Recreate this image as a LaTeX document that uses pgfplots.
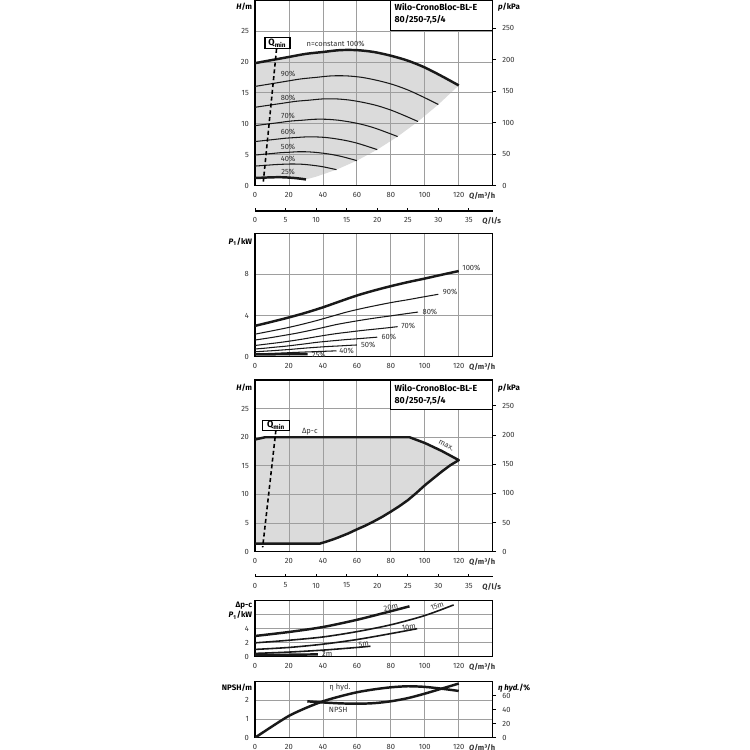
\documentclass[border=0pt]{standalone}
\usepackage{fontspec}
\setmainfont{Fira Sans}
\usepackage{pgfplots}
\pgfplotsset{compat=1.18}

\newcommand\tf{\fontsize{4.3}{5}\selectfont}
\newcommand\lf{\bfseries\fontsize{4.5}{5.4}\selectfont}
\newcommand\qf{\bfseries\fontsize{5.2}{6}\selectfont}
\definecolor{area}{gray}{0.86}
\definecolor{gridc}{gray}{0.62}

\pgfplotsset{
  wilo/.style={
    set layers, scale only axis, width=4.754cm, xmin=0, xmax=140,
    clip=false,
    axis line style={line width=0.7pt},
    grid=major, grid style={gridc, line width=0.45pt},
    major tick length=0pt,
    tick label style={font=\tf, text=black!80},
    xtick={0,20,...,120},
    extra x ticks={123.5},
    extra x tick labels={\textbf{\textit{Q}/m³/h}},
    extra x tick style={grid=none, xticklabel style={anchor=north west, xshift=-1pt}},
    /pgf/number format/assume math mode=true,
  },
  rax/.style={
    scale only axis, width=4.754cm, xmin=0, xmax=140,
    axis x line=none, axis y line*=right,
    axis line style={line width=0.7pt},
    tick align=outside, major tick length=2pt,
    tick style={line width=0.5pt, black},
    tick label style={font=\tf, text=black!80},
    /pgf/number format/assume math mode=true,
  },
  lps/.style={
    scale only axis, width=4.754cm, height=0.2cm,
    xmin=0, xmax=38.889, ymin=0, ymax=1,
    axis x line*=bottom, axis y line=none,
    axis line style={line width=0.6pt},
    xtick={0,5,...,35}, tick align=inside, major tick length=1.5pt,
    tick style={line width=0.5pt, black},
    tick label style={font=\tf, text=black!80},
    extra x ticks={36.2},
    extra x tick labels={\textbf{\textit{Q}/l/s}},
    extra x tick style={major tick length=0pt, xticklabel style={anchor=north west}},
    /pgf/number format/assume math mode=true,
  },
  thk/.style={black!90, line width=1.4pt, line join=round},
  thn/.style={black!90, line width=0.6pt, smooth},
  med/.style={black!90, line width=0.9pt, smooth},
}

\begin{document}
\begin{tikzpicture}

% ---------- H(Q) at constant speed
\begin{axis}[wilo, at={(5.1cm,11.286cm)}, anchor=south west,
  height=3.714cm, ymin=0, ymax=30, ytick={0,5,...,25}]
\addplot[on layer=axis background, fill=area, draw=none] coordinates {
  (0,19.8)(10,20.3)(20,20.8)(30,21.3)(40,21.6)(50,21.9)(60,21.9)(70,21.6)
  (80,21.0)(90,20.2)(100,19.1)(110,17.7)(120,16.2)
  (108,13.12)(96,10.37)(84,7.94)(72,5.83)(60,4.05)(48,2.59)(36,1.46)(30,1.01)
  (27.5,1.11)(25,1.19)(22.5,1.26)(20,1.31)(17.5,1.35)(15,1.37)(12.5,1.37)
  (10,1.35)(7.5,1.33)(5,1.30)(2.5,1.27)(0,1.24)} -- cycle;
\addplot[thk, smooth] coordinates {(0,19.8)(10,20.3)(20,20.8)(30,21.3)(40,21.6)(50,21.9)(60,21.9)(70,21.6)(80,21.0)(90,20.2)(100,19.1)(110,17.7)(120,16.2)};
\addplot[thn] coordinates {(0,16.04)(9,16.44)(18,16.85)(27,17.25)(36,17.50)(45,17.74)(54,17.74)(63,17.50)(72,17.01)(81,16.36)(90,15.47)(99,14.34)(108,13.12)};
\addplot[thn] coordinates {(0,12.67)(8,12.99)(16,13.31)(24,13.63)(32,13.82)(40,14.02)(48,14.02)(56,13.82)(64,13.44)(72,12.93)(80,12.22)(88,11.33)(96,10.37)};
\addplot[thn] coordinates {(0,9.70)(7,9.95)(14,10.19)(21,10.44)(28,10.58)(35,10.73)(42,10.73)(49,10.58)(56,10.29)(63,9.90)(70,9.36)(77,8.67)(84,7.94)};
\addplot[thn] coordinates {(0,7.13)(6,7.31)(12,7.49)(18,7.67)(24,7.78)(30,7.88)(36,7.88)(42,7.78)(48,7.56)(54,7.27)(60,6.88)(66,6.37)(72,5.83)};
\addplot[thn] coordinates {(0,4.95)(5,5.08)(10,5.20)(15,5.33)(20,5.40)(25,5.48)(30,5.48)(35,5.40)(40,5.25)(45,5.05)(50,4.78)(55,4.43)(60,4.05)};
\addplot[thn] coordinates {(0,3.17)(4,3.25)(8,3.33)(12,3.41)(16,3.46)(20,3.50)(24,3.50)(28,3.46)(32,3.36)(36,3.23)(40,3.06)(44,2.83)(48,2.59)};
\addplot[thk, smooth] coordinates {(0,1.24)(2.5,1.27)(5,1.30)(7.5,1.33)(10,1.35)(12.5,1.37)(15,1.37)(17.5,1.35)(20,1.31)(22.5,1.26)(25,1.19)(27.5,1.11)(30,1.01)};
% Qmin
\addplot[black, line width=0.9pt, dash pattern=on 2.3pt off 1.6pt] coordinates {(12.7,22.1)(4.9,0.65)};
\node[draw, fill=white, line width=0.6pt, inner sep=0pt, minimum width=14.2pt, minimum height=6.3pt, font=\qf] at (axis cs:13.25,23.0) {Q\textsubscript{min}};
\node[font=\tf, text=black!80] at (axis cs:47.5,22.9) {n=constant 100\%};
\node[font=\tf, text=black!80] at (axis cs:19.5,18.0) {90\%};
\node[font=\tf, text=black!80] at (axis cs:19.5,14.2) {80\%};
\node[font=\tf, text=black!80] at (axis cs:19.5,11.3) {70\%};
\node[font=\tf, text=black!80] at (axis cs:19.5,8.7) {60\%};
\node[font=\tf, text=black!80] at (axis cs:19.5,6.3) {50\%};
\node[font=\tf, text=black!80] at (axis cs:19.5,4.3) {40\%};
\node[font=\tf, text=black!80] at (axis cs:19.5,2.27) {25\%};
% title box
\draw[fill=white, line width=0.7pt] (axis cs:80,25.1) rectangle (axis cs:140,30);
\node[anchor=north west, align=left, inner sep=0pt, font=\bfseries\fontsize{5}{6.6}\selectfont] at (axis cs:82,29.5) {Wilo-CronoBloc-BL-E\\80/250-7,5/4};
\node[anchor=north east, inner sep=0pt, font=\lf] at (axis cs:-1.5,29.5) {\textit{H}/m};
\node[anchor=north west, inner sep=0pt, font=\lf] at (axis cs:143,29.5) {\textit{p}/kPa};
\end{axis}
\begin{axis}[rax, at={(5.1cm,11.286cm)}, anchor=south west,
  height=3.714cm, ymin=0, ymax=294.3, ytick={0,50,...,250}]
\addplot[draw=none] coordinates {(0,0)(140,294.3)};
\end{axis}
\begin{axis}[lps, at={(5.1cm,10.78cm)}, anchor=south west]
\addplot[draw=none] coordinates {(0,0)(38.889,1)};
\end{axis}

% ---------- P1(Q)
\begin{axis}[wilo, at={(5.1cm,7.866cm)}, anchor=south west,
  height=2.468cm, ymin=0, ymax=12, ytick={0,4,8}]
\addplot[thk, smooth] coordinates {(0,3.0)(10,3.4)(20,3.82)(30,4.28)(40,4.8)(50,5.38)(60,5.95)(70,6.43)(80,6.86)(90,7.25)(100,7.6)(110,7.97)(120,8.33)};
\addplot[thn] coordinates {(0,2.19)(9,2.48)(18,2.78)(27,3.12)(36,3.50)(45,3.92)(54,4.34)(63,4.69)(72,5.00)(81,5.29)(90,5.54)(99,5.81)(108,6.07)};
\addplot[thn] coordinates {(0,1.62)(8,1.82)(16,2.04)(24,2.27)(32,2.54)(40,2.83)(48,3.13)(56,3.37)(64,3.59)(72,3.79)(80,3.97)(88,4.16)(96,4.34)};
\addplot[thn] coordinates {(0,1.09)(7,1.23)(14,1.37)(21,1.53)(28,1.71)(35,1.91)(42,2.10)(49,2.27)(56,2.41)(63,2.55)(70,2.67)(77,2.79)(84,2.92)};
\addplot[thn] coordinates {(0,0.75)(6,0.83)(12,0.93)(18,1.02)(24,1.14)(30,1.26)(36,1.39)(42,1.49)(48,1.58)(54,1.67)(60,1.74)(66,1.82)(72,1.90)};
\addplot[thn] coordinates {(0,0.48)(5,0.53)(10,0.58)(15,0.64)(20,0.70)(25,0.77)(30,0.84)(35,0.90)(40,0.96)(45,1.01)(50,1.05)(55,1.10)(60,1.14)};
\addplot[thn] coordinates {(0,0.26)(8,0.31)(16,0.36)(24,0.42)(32,0.47)(40,0.52)(48,0.57)};
\addplot[thk] coordinates {(0,0.22)(15,0.24)(31,0.26)};
\node[anchor=west, inner sep=0pt, font=\tf, text=black!80] at (axis cs:122,8.6) {100\%};
\node[anchor=west, inner sep=0pt, font=\tf, text=black!80] at (axis cs:110.5,6.3) {90\%};
\node[anchor=west, inner sep=0pt, font=\tf, text=black!80] at (axis cs:98.5,4.4) {80\%};
\node[anchor=west, inner sep=0pt, font=\tf, text=black!80] at (axis cs:86,3.0) {70\%};
\node[anchor=west, inner sep=0pt, font=\tf, text=black!80] at (axis cs:74.4,1.93) {60\%};
\node[anchor=west, inner sep=0pt, font=\tf, text=black!80] at (axis cs:62.3,1.14) {50\%};
\node[anchor=west, inner sep=0pt, font=\tf, text=black!80] at (axis cs:49.5,0.56) {40\%};
\node[anchor=west, inner sep=0pt, font=\tf, text=black!80] at (axis cs:33.3,0.16) {25\%};
\node[anchor=north east, inner sep=0pt, font=\lf] at (axis cs:-1.5,11.6) {\textit{P}\textsubscript{1}/kW};
\end{axis}

% ---------- H(Q) controlled
\begin{axis}[wilo, at={(5.1cm,3.966cm)}, anchor=south west,
  height=3.434cm, ymin=0, ymax=30, ytick={0,5,...,25}]
\addplot[on layer=axis background, fill=area, draw=none] coordinates {
  (0,19.6)(6,20)(91,20)(100,19.0)(110,17.6)(120,16.0)
  (115,15.1)(110,14.0)(105,12.8)(100,11.6)(95,10.25)(90,9.0)(85,7.95)(80,7.0)
  (75,6.1)(70,5.3)(65,4.55)(60,3.9)(55,3.2)(50,2.6)(46,2.15)(42,1.75)(38,1.4)(0,1.4)} -- cycle;
\addplot[thk] coordinates {(0,19.6)(6,20)(91,20)(100,19.0)(110,17.6)(120,16.0)
  (115,15.1)(110,14.0)(105,12.8)(100,11.6)(95,10.25)(90,9.0)(85,7.95)(80,7.0)
  (75,6.1)(70,5.3)(65,4.55)(60,3.9)(55,3.2)(50,2.6)(46,2.15)(42,1.75)(38,1.4)(0,1.4)};
\addplot[black, line width=0.9pt, dash pattern=on 2.3pt off 1.6pt] coordinates {(12.3,21.2)(4.5,0.75)};
\node[draw, fill=white, line width=0.6pt, inner sep=0pt, minimum width=15.5pt, minimum height=5.9pt, font=\qf] at (axis cs:12.5,22.1) {Q\textsubscript{min}};
\node[font=\tf, text=black!80] at (axis cs:32.3,20.9) {Δp-c};
\node[font=\tf, text=black!80, rotate=-27] at (axis cs:112.6,18.5) {max.};
\draw[fill=white, line width=0.7pt] (axis cs:80,24.8) rectangle (axis cs:140,30);
\node[anchor=north west, align=left, inner sep=0pt, font=\bfseries\fontsize{5}{6.6}\selectfont] at (axis cs:82,29.3) {Wilo-CronoBloc-BL-E\\80/250-7,5/4};
\node[anchor=north east, inner sep=0pt, font=\lf] at (axis cs:-1.5,29.3) {\textit{H}/m};
\node[anchor=north west, inner sep=0pt, font=\lf] at (axis cs:143,29.3) {\textit{p}/kPa};
\end{axis}
\begin{axis}[rax, at={(5.1cm,3.966cm)}, anchor=south west,
  height=3.434cm, ymin=0, ymax=294.3, ytick={0,50,...,250}]
\addplot[draw=none] coordinates {(0,0)(140,294.3)};
\end{axis}
\begin{axis}[lps, at={(5.1cm,3.466cm)}, anchor=south west]
\addplot[draw=none] coordinates {(0,0)(38.889,1)};
\end{axis}

% ---------- P1 at dp-c
\begin{axis}[wilo, at={(5.1cm,1.866cm)}, anchor=south west,
  height=1.12cm, ymin=0, ymax=8, ytick={0,2,4,6}, yticklabels={0,2,4,{}}]
\addplot[thk, smooth] coordinates {(0,2.96)(20,3.53)(40,4.24)(60,5.27)(80,6.5)(91,7.2)};
\addplot[med] coordinates {(0,1.98)(20,2.35)(40,2.82)(60,3.58)(80,4.56)(100,5.88)(117,7.4)};
\addplot[med] coordinates {(0,1.04)(20,1.32)(40,1.79)(60,2.45)(80,3.3)(95.5,4.0)};
\addplot[med] coordinates {(0,0.47)(20,0.66)(40,0.94)(60,1.32)(68,1.5)};
\addplot[thk] coordinates {(0,0.24)(20,0.28)(37,0.33)};
\node[font=\tf, text=black!80, rotate=13] at (axis cs:80,7.0) {20m};
\node[font=\tf, text=black!80, rotate=18] at (axis cs:107.3,7.2) {15m};
\node[font=\tf, text=black!80, rotate=9] at (axis cs:90.6,4.2) {10m};
\node[font=\tf, text=black!80, rotate=7] at (axis cs:64,1.8) {5m};
\node[font=\tf, text=black!80] at (axis cs:42.5,0.38) {2m};
\node[anchor=north east, align=right, inner sep=0pt, font=\lf] at (axis cs:-1.5,7.8) {Δp-c\\\textit{P}\textsubscript{1}/kW};
\end{axis}

% ---------- NPSH and efficiency
\begin{axis}[wilo, at={(5.1cm,0.246cm)}, anchor=south west,
  height=1.12cm, ymin=0, ymax=3, ytick={0,1,2}]
\addplot[thk, smooth] coordinates {(30.8,1.95)(40,1.89)(50,1.84)(60,1.82)(70,1.85)(80,1.95)(90,2.12)(100,2.36)(110,2.63)(120,2.9)};
\node[font=\tf, text=black!80] at (axis cs:50,2.67) {η hyd.};
\node[font=\tf, text=black!80] at (axis cs:49,1.5) {NPSH};
\node[anchor=north east, inner sep=0pt, font=\lf] at (axis cs:-1.5,2.9) {NPSH/m};
\node[anchor=north west, inner sep=0pt, font=\lf] at (axis cs:143,2.9) {\textit{η hyd.}/\%};
\end{axis}
\begin{axis}[rax, at={(5.1cm,0.246cm)}, anchor=south west,
  height=1.12cm, ymin=0, ymax=80, ytick={0,20,40,60}]
\addplot[thk, smooth] coordinates {(0,0)(10,16)(20,31.2)(30,42.5)(40,52)(50,59)(60,64.9)(70,69)(80,72)(90,73.5)(100,72.6)(110,70)(120,66.8)};
\end{axis}

\pgfresetboundingbox
\useasboundingbox (0,0) rectangle (15cm,15cm);
\end{tikzpicture}
\end{document}
